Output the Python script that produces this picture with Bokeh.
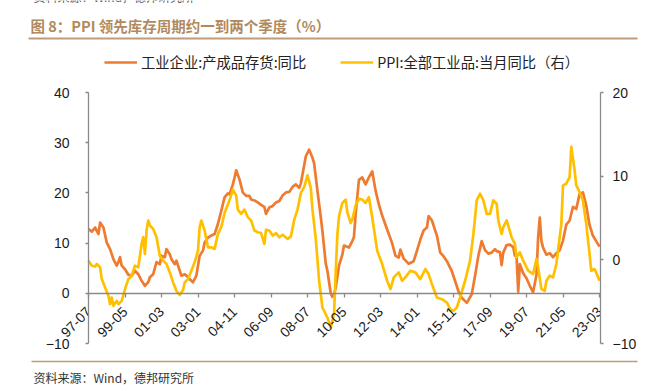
import math
from bokeh.plotting import figure
from bokeh.models import Range1d, LinearAxis, FixedTicker, Legend, LegendItem
from bokeh.layouts import column
from bokeh.embed import file_html
from bokeh.resources import INLINE
from bokeh.core.properties import value

# ---------------- data (x = months since 1997-07) ----------------
tick_months = [0, 22, 44, 66, 88, 110, 132, 154, 176, 198, 220, 242, 264, 286, 308]
tick_labels = ["97-07", "99-05", "01-03", "03-01", "04-11", "06-09", "08-07",
               "10-05", "12-03", "14-01", "15-11", "17-09", "19-07", "21-05", "23-03"]

inv_t = [0, 2, 4, 6, 7, 9, 11, 13, 15, 17, 18, 19, 20, 22, 24, 26, 28, 30, 32, 34,
         36, 37, 39, 41, 43, 44, 46, 47, 49, 50, 52, 53, 55, 56, 58, 60, 61, 63, 65, 67,
         69, 70, 72, 74, 76, 78, 80, 82, 84, 85, 87, 88, 89, 91, 93, 95, 97, 98, 100, 102,
         104, 106, 107, 109, 111, 113, 115, 117, 119, 121, 123, 125, 127, 128, 130, 131, 133, 135, 136, 138,
         140, 141, 143, 144, 146, 147, 148, 149, 151, 153, 154, 157, 159, 160, 161, 163, 165, 167, 169, 171,
         173, 175, 177, 180, 183, 185, 187, 188, 190, 193, 196, 198, 200, 202, 204, 205, 207, 210, 212, 214,
         216, 219, 221, 223, 225, 228, 231, 233, 235, 237, 239, 241, 243, 245, 246, 248, 249, 250, 252, 254,
         256, 257, 258, 259, 260, 262, 264, 266, 268, 270, 271, 272, 273, 274, 276, 278, 280, 282, 284, 286,
         288, 290, 292, 294, 296, 298, 300, 302, 304, 306, 308]
inv_v = [12.8, 12.3, 13.1, 11.8, 14.1, 13.1, 10.1, 8.8, 6.8, 5.5, 6.2, 7.2, 5.5, 4.8, 3.7, 3.5, 4.5, 3.8, 2.5, 1.5,
         2.2, 3.2, 3.8, 6.2, 5.8, 7.5, 7.2, 8.8, 7.8, 6.8, 5.8, 6.5, 4.5, 3.5, 3.8, 3.2, 2.8, 2.2, 3.5, 7.5,
         8.5, 10.1, 11.1, 11.5, 11.8, 13.8, 16.4, 19.1, 19.9, 19.7, 21.7, 23.0, 24.5, 22.7, 20.1, 19.4, 19.4, 18.7, 18.5, 18.1,
         17.6, 17.2, 15.8, 17.1, 17.4, 18.1, 18.4, 19.5, 20.1, 20.2, 21.2, 21.7, 21.0, 21.9, 25.5, 27.3, 28.6, 27.0, 25.9, 20.4,
         15.2, 12.4, 5.9, 4.5, 0.0, -0.7, -0.2, 1.1, 5.5, 7.7, 9.5, 9.1, 10.4, 11.2, 15.7, 22.6, 23.1, 21.7, 23.1, 24.3,
         20.5, 17.7, 15.5, 12.7, 10.0, 7.5, 7.1, 8.7, 6.9, 5.9, 6.4, 8.5, 10.7, 12.5, 13.1, 15.4, 14.5, 11.5, 8.1, 7.4,
         6.4, 4.4, 2.4, 0.4, -0.9, -1.9, -0.2, 3.5, 7.5, 10.4, 8.6, 7.9, 8.1, 8.8, 8.4, 8.2, 5.6, 8.1, 9.6, 9.7,
         9.2, 7.5, 7.5, 0.3, 5.8, 4.0, 3.0, 1.5, 0.2, 3.7, 11.0, 15.1, 10.4, 9.1, 7.7, 8.0, 7.2, 8.0, 8.6, 10.5,
         13.7, 14.5, 17.2, 16.8, 19.8, 20.1, 17.5, 13.6, 11.5, 10.4, 9.3]

ppi_t = [0, 2, 4, 5, 7, 8, 10, 12, 13, 14, 15, 17, 18, 20, 22, 24, 26, 28, 30, 32,
         33, 34, 35, 36, 37, 39, 41, 43, 45, 47, 49, 51, 53, 55, 57, 58, 60, 62, 64, 66,
         67, 68, 70, 72, 74, 76, 78, 80, 82, 84, 86, 87, 89, 90, 92, 94, 96, 98, 100, 102,
         104, 106, 107, 109, 111, 113, 115, 117, 120, 122, 124, 126, 128, 130, 132, 134, 135, 137, 139, 141,
         144, 146, 148, 149, 150, 151, 153, 155, 156, 158, 159, 161, 163, 165, 167, 169, 171, 174, 177, 180,
         182, 184, 187, 189, 191, 194, 197, 200, 203, 205, 207, 210, 213, 216, 218, 220, 222, 224, 227, 230,
         232, 234, 236, 238, 240, 242, 244, 246, 247, 249, 250, 252, 253, 255, 257, 258, 260, 262, 265, 268,
         270, 271, 273, 275, 276, 278, 280, 282, 283, 285, 286, 288, 290, 291, 293, 294, 296, 298, 300, 302,
         303, 305, 306, 308]
ppi_v = [-0.1, -0.7, -0.8, -0.5, -0.9, -2.3, -3.3, -4.3, -5.3, -4.5, -5.5, -4.9, -5.3, -4.9, -3.5, -2.3, -1.9, -0.7, -0.9, 1.9,
         2.7, 0.7, 3.5, 4.7, 4.1, 3.7, 2.7, 0.5, -0.1, -0.5, -1.5, -2.7, -3.7, -4.2, -3.6, -2.7, -2.3, -1.3, -0.3, 1.1,
         3.9, 4.7, 3.5, 1.5, 1.5, 1.3, 3.1, 3.9, 5.6, 6.6, 7.7, 8.4, 7.7, 6.0, 5.5, 6.0, 5.1, 4.7, 3.5, 3.3,
         3.2, 1.9, 3.6, 3.5, 2.9, 3.2, 2.7, 3.0, 2.5, 2.8, 4.8, 6.0, 8.0, 8.7, 10.1, 8.6, 6.0, 2.5, -2.5, -5.7,
         -6.9, -8.1, -6.4, -1.5, 3.0, 5.2, 6.8, 7.2, 5.7, 4.4, 4.8, 6.5, 7.3, 7.2, 6.8, 7.5, 5.1, 1.1, -0.5, -2.5,
         -3.5, -2.1, -1.5, -2.5, -2.1, -1.3, -1.5, -2.3, -1.1, -1.7, -2.9, -4.5, -4.7, -5.1, -5.9, -6.1, -5.7, -4.5, -2.5, -0.1,
         3.1, 7.1, 7.9, 7.1, 5.5, 5.5, 7.1, 6.7, 4.7, 3.1, 3.9, 4.7, 4.1, 2.7, 1.9, 0.3, 0.9, -0.1, -1.3, -1.7,
         0.1, -0.9, -3.5, -3.7, -2.5, -1.9, -2.1, -0.5, 1.1, 4.3, 8.9, 9.1, 9.9, 13.5, 10.7, 8.9, 8.1, 7.1, 4.3, 0.7,
         -1.3, -1.1, -1.5, -2.5]

left_ticks = [-10, 0, 10, 20, 30, 40]
right_ticks = [-10, 0, 10, 20]
left_lim = (-10, 40)
right_lim = (-10, 20)

title_text = "图 8：PPI 领先库存周期约一到两个季度（%）"
name_inv = "工业企业:产成品存货:同比"
name_ppi = "PPI:全部工业品:当月同比（右）"
source_text = "资料来源：Wind，德邦研究所"

# ---------------- styling / layout ----------------
W = 651
CJK = "Noto Sans CJK SC"
LAT = "Liberation Sans"
ORANGE = "#EE7B30"
YELLOW = "#FFC000"
AXIS_GREY = "#8A8A8A"
BROWN = "#B08A5E"
RULE = "#BE9B7B"
LW = 2.7

FRAME_L, FRAME_R = 40, 600          # frame edges (px)
X0_PX = 88                          # px position of the first month / left axis
PX_PER_M = (599 - 88) / 308.0
x_start = -(X0_PX - FRAME_L) / PX_PER_M
x_end = (FRAME_R - X0_PX) / PX_PER_M

TOP_H = 80
MAIN_H = 276                        # page rows 80..356
AX_TOP, AX_BOT = 92, 343            # page rows of the axes' ends
PAD = 10                            # frame padding above/below the axes
PLOT_H = AX_BOT - AX_TOP
lpp = (left_lim[1] - left_lim[0]) / PLOT_H
rpp = (right_lim[1] - right_lim[0]) / PLOT_H


def blank(h):
    f = figure(width=W, height=h, x_range=Range1d(0, W), y_range=Range1d(h, 0),
               x_axis_type=None, y_axis_type=None, toolbar_location=None,
               output_backend="svg", min_border=0)
    f.grid.visible = False
    f.outline_line_color = None
    try:
        f.frame_align = False
    except Exception:
        pass
    return f

# ---- header: title, rule and legend ----
top = blank(TOP_H)
top.text(x=[33], y=[-4], text=[source_text], text_font=value(CJK),
         text_font_size="12px", text_color="#555555", text_baseline="middle", text_align="left")
top.text(x=[30], y=[25], text=[title_text], text_font=value(CJK), text_font_style="bold",
         text_font_size="14.5px", text_color=BROWN, text_baseline="middle", text_align="left")
top.segment(x0=[28], y0=[38], x1=[637], y1=[38], line_color=RULE, line_width=2)
# legend swatches (placed outside the visible range, only their style is used)
sw_inv = top.line(x=[-20, -10], y=[-20, -20], line_color=ORANGE, line_width=LW)
sw_ppi = top.line(x=[-20, -10], y=[-20, -20], line_color=YELLOW, line_width=LW)
legend = Legend(items=[LegendItem(label=name_inv, renderers=[sw_inv]),
                       LegendItem(label=name_ppi, renderers=[sw_ppi])],
                orientation="horizontal", location=(104, TOP_H - 62 - 10),
                padding=0, margin=0, spacing=34, glyph_width=33, glyph_height=20,
                label_height=20, label_standoff=4,
                label_text_font=CJK, label_text_font_size="14.3px", label_text_color="#222222",
                border_line_color=None, background_fill_alpha=0)
top.add_layout(legend)

# ---- main chart ----
p = figure(width=W, height=MAIN_H, x_range=Range1d(x_start, x_end),
           y_range=Range1d(left_lim[0] - PAD * lpp, left_lim[1] + PAD * lpp),
           x_axis_type=None, y_axis_type=None, toolbar_location=None, output_backend="svg",
           min_border_left=FRAME_L, min_border_right=W - FRAME_R,
           min_border_top=AX_TOP - PAD - TOP_H,
           min_border_bottom=TOP_H + MAIN_H - AX_BOT - PAD)
p.extra_y_ranges = {"ppi": Range1d(right_lim[0] - PAD * rpp, right_lim[1] + PAD * rpp)}
p.grid.visible = False
p.outline_line_color = None

p.line(inv_t, inv_v, line_color=ORANGE, line_width=LW, line_join="round")
p.line(ppi_t, ppi_v, y_range_name="ppi", line_color=YELLOW, line_width=LW, line_join="round")


def style_axis(ax):
    ax.axis_line_color = AXIS_GREY
    ax.axis_line_width = 1.3
    ax.major_tick_line_color = AXIS_GREY
    ax.major_tick_line_width = 1.3
    ax.major_tick_in = 0
    ax.major_tick_out = 3
    ax.minor_tick_line_color = None
    ax.major_label_text_font = LAT
    ax.major_label_text_font_size = "14px"
    ax.major_label_text_color = "#1a1a1a"


yl = LinearAxis(ticker=FixedTicker(ticks=left_ticks), fixed_location=0, bounds=left_lim)
style_axis(yl)
yl.major_label_standoff = 16
p.add_layout(yl, "left")

yr = LinearAxis(y_range_name="ppi", ticker=FixedTicker(ticks=right_ticks), bounds=right_lim)
style_axis(yr)
yr.major_label_standoff = 9
p.add_layout(yr, "right")

xa = LinearAxis(ticker=FixedTicker(ticks=tick_months), fixed_location=0, bounds=(0, x_end))
style_axis(xa)
xa.major_tick_out = 4
xa.major_label_overrides = {m: lab for m, lab in zip(tick_months, tick_labels)}
xa.major_label_orientation = math.pi / 4
xa.major_label_standoff = 12
p.add_layout(xa, "below")

# ---- footer ----
BOT_H = 35
bot = blank(BOT_H)
bot.segment(x0=[31], y0=[361 - TOP_H - MAIN_H], x1=[637], y1=[361 - TOP_H - MAIN_H],
            line_color=RULE, line_width=1.5)
bot.text(x=[33], y=[377 - TOP_H - MAIN_H], text=[source_text], text_font=value(CJK),
         text_font_size="12px", text_color="#333333", text_baseline="middle", text_align="left")

layout = column(top, p, bot, spacing=0)
open("out.html", "w").write(file_html(layout, INLINE))
